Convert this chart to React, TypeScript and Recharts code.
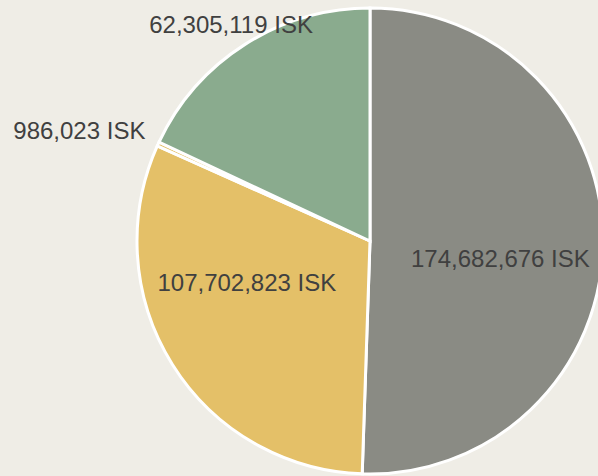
import React from "react";
import { PieChart, Pie, Cell } from "recharts";

const categories = ["A", "B", "C", "D"];
const values = [174682676, 107702823, 986023, 62305119];
const colors = ["#8a8b84", "#e4c068", "#e4c068", "#8aab8e"];

const data = categories.map((name, i) => ({ name, value: values[i] }));

const RAD = Math.PI / 180;
const fmt = (v: number) => v.toLocaleString("en-US") + " ISK";

const renderLabel = (props: any) => {
  const { cx, cy, midAngle, outerRadius, percent, value } = props;
  const style = { fontFamily: "'Liberation Sans', Arial, sans-serif", fontSize: 24, fill: "#404040" };
  if (percent > 0.25) {
    const a = (midAngle - 10) * RAD;
    const r = outerRadius * 0.57;
    const x = cx + r * Math.cos(a);
    const y = cy - r * Math.sin(a) - 8;
    return (
      <text x={x} y={y} textAnchor="middle" dominantBaseline="central" {...style}>
        {fmt(value)}
      </text>
    );
  }
  const a = midAngle * RAD;
  const c = Math.cos(a);
  const side = Math.abs(c) > 0.7;
  const r = outerRadius + (side ? 14 : 26);
  const x = cx + r * c;
  const y = cy - r * Math.sin(a) + (side ? -8 : 2);
  const anchor = side ? (c < 0 ? "end" : "start") : "middle";
  return (
    <text x={x} y={y} textAnchor={anchor} dominantBaseline="central" {...style}>
      {fmt(value)}
    </text>
  );
};

export default function App() {
  return (
    <div style={{ position: "absolute", left: 0, top: 0, width: 598, height: 476, background: "#efede6", overflow: "hidden" }}>
      <PieChart width={598} height={476} margin={{ top: 0, right: 0, bottom: 0, left: 0 }}>
        <Pie
          data={data}
          dataKey="value"
          cx={370}
          cy={241}
          outerRadius={233}
          startAngle={90}
          endAngle={-270}
          stroke="#ffffff"
          strokeWidth={3}
          label={renderLabel}
          labelLine={false}
          isAnimationActive={false}
        >
          {data.map((d, i) => (
            <Cell key={d.name} fill={colors[i]} />
          ))}
        </Pie>
      </PieChart>
    </div>
  );
}
